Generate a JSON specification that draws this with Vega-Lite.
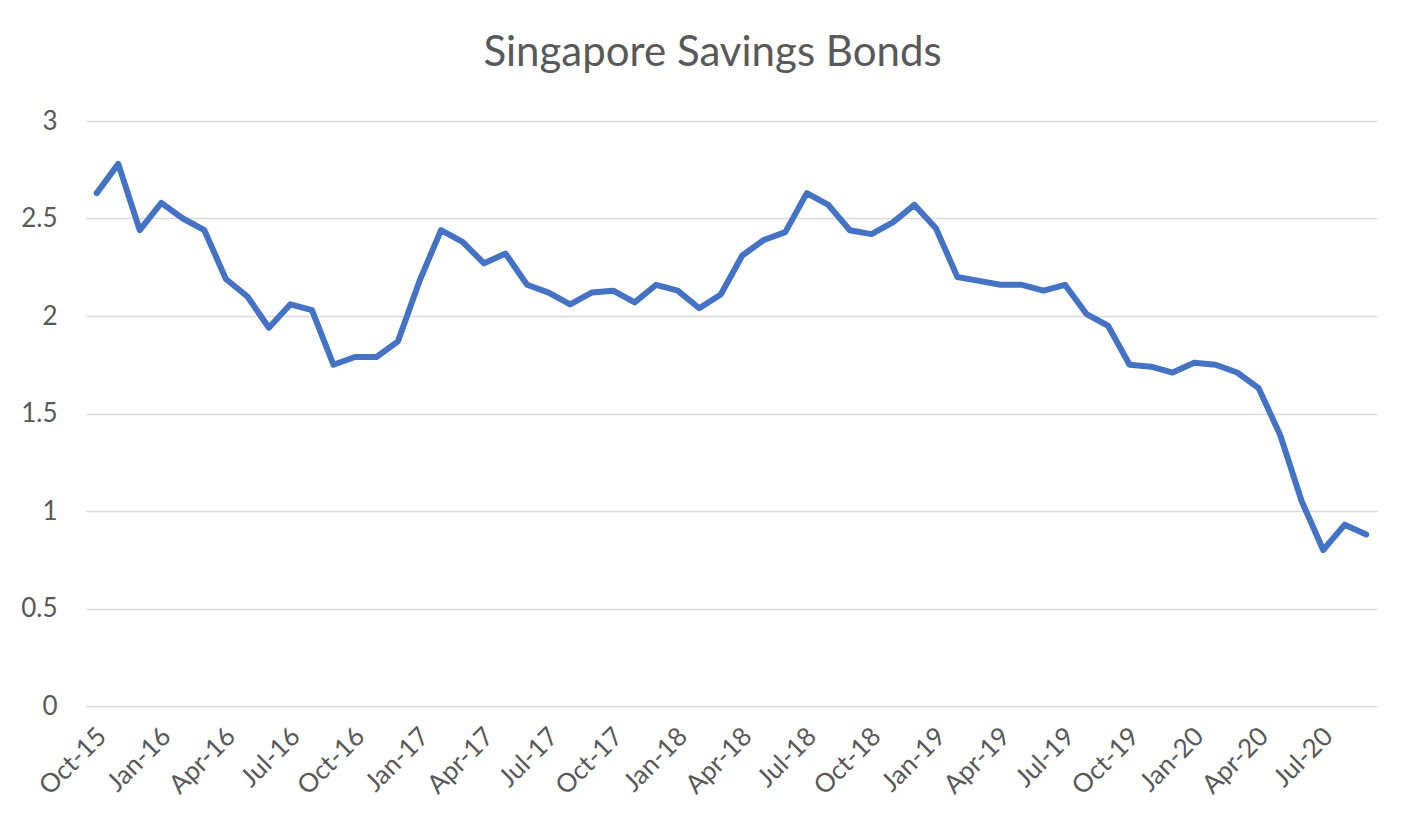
{
  "$schema": "https://vega.github.io/schema/vega-lite/v6.json",
  "autosize": "none",
  "width": 1291,
  "height": 585,
  "padding": {"left": 86, "top": 121, "right": 49, "bottom": 124},
  "background": "white",
  "title": {
    "text": "Singapore Savings Bonds",
    "font": "Lato",
    "fontSize": 42,
    "fontWeight": "normal",
    "color": "#595959",
    "anchor": "middle",
    "frame": "group",
    "dx": -19,
    "offset": 33
  },
  "data": {
    "values": [
      {"m": "Oct-15", "v": 2.63},
      {"m": "Nov-15", "v": 2.78},
      {"m": "Dec-15", "v": 2.44},
      {"m": "Jan-16", "v": 2.58},
      {"m": "Feb-16", "v": 2.50},
      {"m": "Mar-16", "v": 2.44},
      {"m": "Apr-16", "v": 2.19},
      {"m": "May-16", "v": 2.10},
      {"m": "Jun-16", "v": 1.94},
      {"m": "Jul-16", "v": 2.06},
      {"m": "Aug-16", "v": 2.03},
      {"m": "Sep-16", "v": 1.75},
      {"m": "Oct-16", "v": 1.79},
      {"m": "Nov-16", "v": 1.79},
      {"m": "Dec-16", "v": 1.87},
      {"m": "Jan-17", "v": 2.18},
      {"m": "Feb-17", "v": 2.44},
      {"m": "Mar-17", "v": 2.38},
      {"m": "Apr-17", "v": 2.27},
      {"m": "May-17", "v": 2.32},
      {"m": "Jun-17", "v": 2.16},
      {"m": "Jul-17", "v": 2.12},
      {"m": "Aug-17", "v": 2.06},
      {"m": "Sep-17", "v": 2.12},
      {"m": "Oct-17", "v": 2.13},
      {"m": "Nov-17", "v": 2.07},
      {"m": "Dec-17", "v": 2.16},
      {"m": "Jan-18", "v": 2.13},
      {"m": "Feb-18", "v": 2.04},
      {"m": "Mar-18", "v": 2.11},
      {"m": "Apr-18", "v": 2.31},
      {"m": "May-18", "v": 2.39},
      {"m": "Jun-18", "v": 2.43},
      {"m": "Jul-18", "v": 2.63},
      {"m": "Aug-18", "v": 2.57},
      {"m": "Sep-18", "v": 2.44},
      {"m": "Oct-18", "v": 2.42},
      {"m": "Nov-18", "v": 2.48},
      {"m": "Dec-18", "v": 2.57},
      {"m": "Jan-19", "v": 2.45},
      {"m": "Feb-19", "v": 2.20},
      {"m": "Mar-19", "v": 2.18},
      {"m": "Apr-19", "v": 2.16},
      {"m": "May-19", "v": 2.16},
      {"m": "Jun-19", "v": 2.13},
      {"m": "Jul-19", "v": 2.16},
      {"m": "Aug-19", "v": 2.01},
      {"m": "Sep-19", "v": 1.95},
      {"m": "Oct-19", "v": 1.75},
      {"m": "Nov-19", "v": 1.74},
      {"m": "Dec-19", "v": 1.71},
      {"m": "Jan-20", "v": 1.76},
      {"m": "Feb-20", "v": 1.75},
      {"m": "Mar-20", "v": 1.71},
      {"m": "Apr-20", "v": 1.63},
      {"m": "May-20", "v": 1.39},
      {"m": "Jun-20", "v": 1.05},
      {"m": "Jul-20", "v": 0.80},
      {"m": "Aug-20", "v": 0.93},
      {"m": "Sep-20", "v": 0.88}
    ]
  },
  "mark": {
    "type": "line",
    "color": "#4472C4",
    "strokeWidth": 6,
    "strokeCap": "round",
    "strokeJoin": "round"
  },
  "encoding": {
    "x": {
      "field": "m",
      "type": "ordinal",
      "sort": null,
      "scale": {"type": "point", "padding": 0.5},
      "axis": {
        "title": null,
        "values": ["Oct-15","Jan-16","Apr-16","Jul-16","Oct-16","Jan-17","Apr-17","Jul-17","Oct-17","Jan-18","Apr-18","Jul-18","Oct-18","Jan-19","Apr-19","Jul-19","Oct-19","Jan-20","Apr-20","Jul-20"],
        "labelAngle": -45,
        "labelAlign": "right",
        "labelBaseline": "middle",
        "labelPadding": 26,
        "labelOffset": 5,
        "labelFont": "Lato",
        "labelFontSize": 26,
        "labelColor": "#595959",
        "labelOverlap": false,
        "ticks": false,
        "domain": false,
        "grid": false
      }
    },
    "y": {
      "field": "v",
      "type": "quantitative",
      "scale": {"domain": [0, 3], "nice": false, "zero": true},
      "axis": {
        "title": null,
        "values": [0, 0.5, 1, 1.5, 2, 2.5, 3],
        "format": "~g",
        "labelFont": "Lato",
        "labelFontSize": 26,
        "labelColor": "#595959",
        "labelPadding": 29,
        "ticks": false,
        "domain": false,
        "grid": true,
        "gridColor": "#d9d9d9",
        "gridWidth": 1.5
      }
    }
  },
  "config": {"view": {"stroke": null}}
}
